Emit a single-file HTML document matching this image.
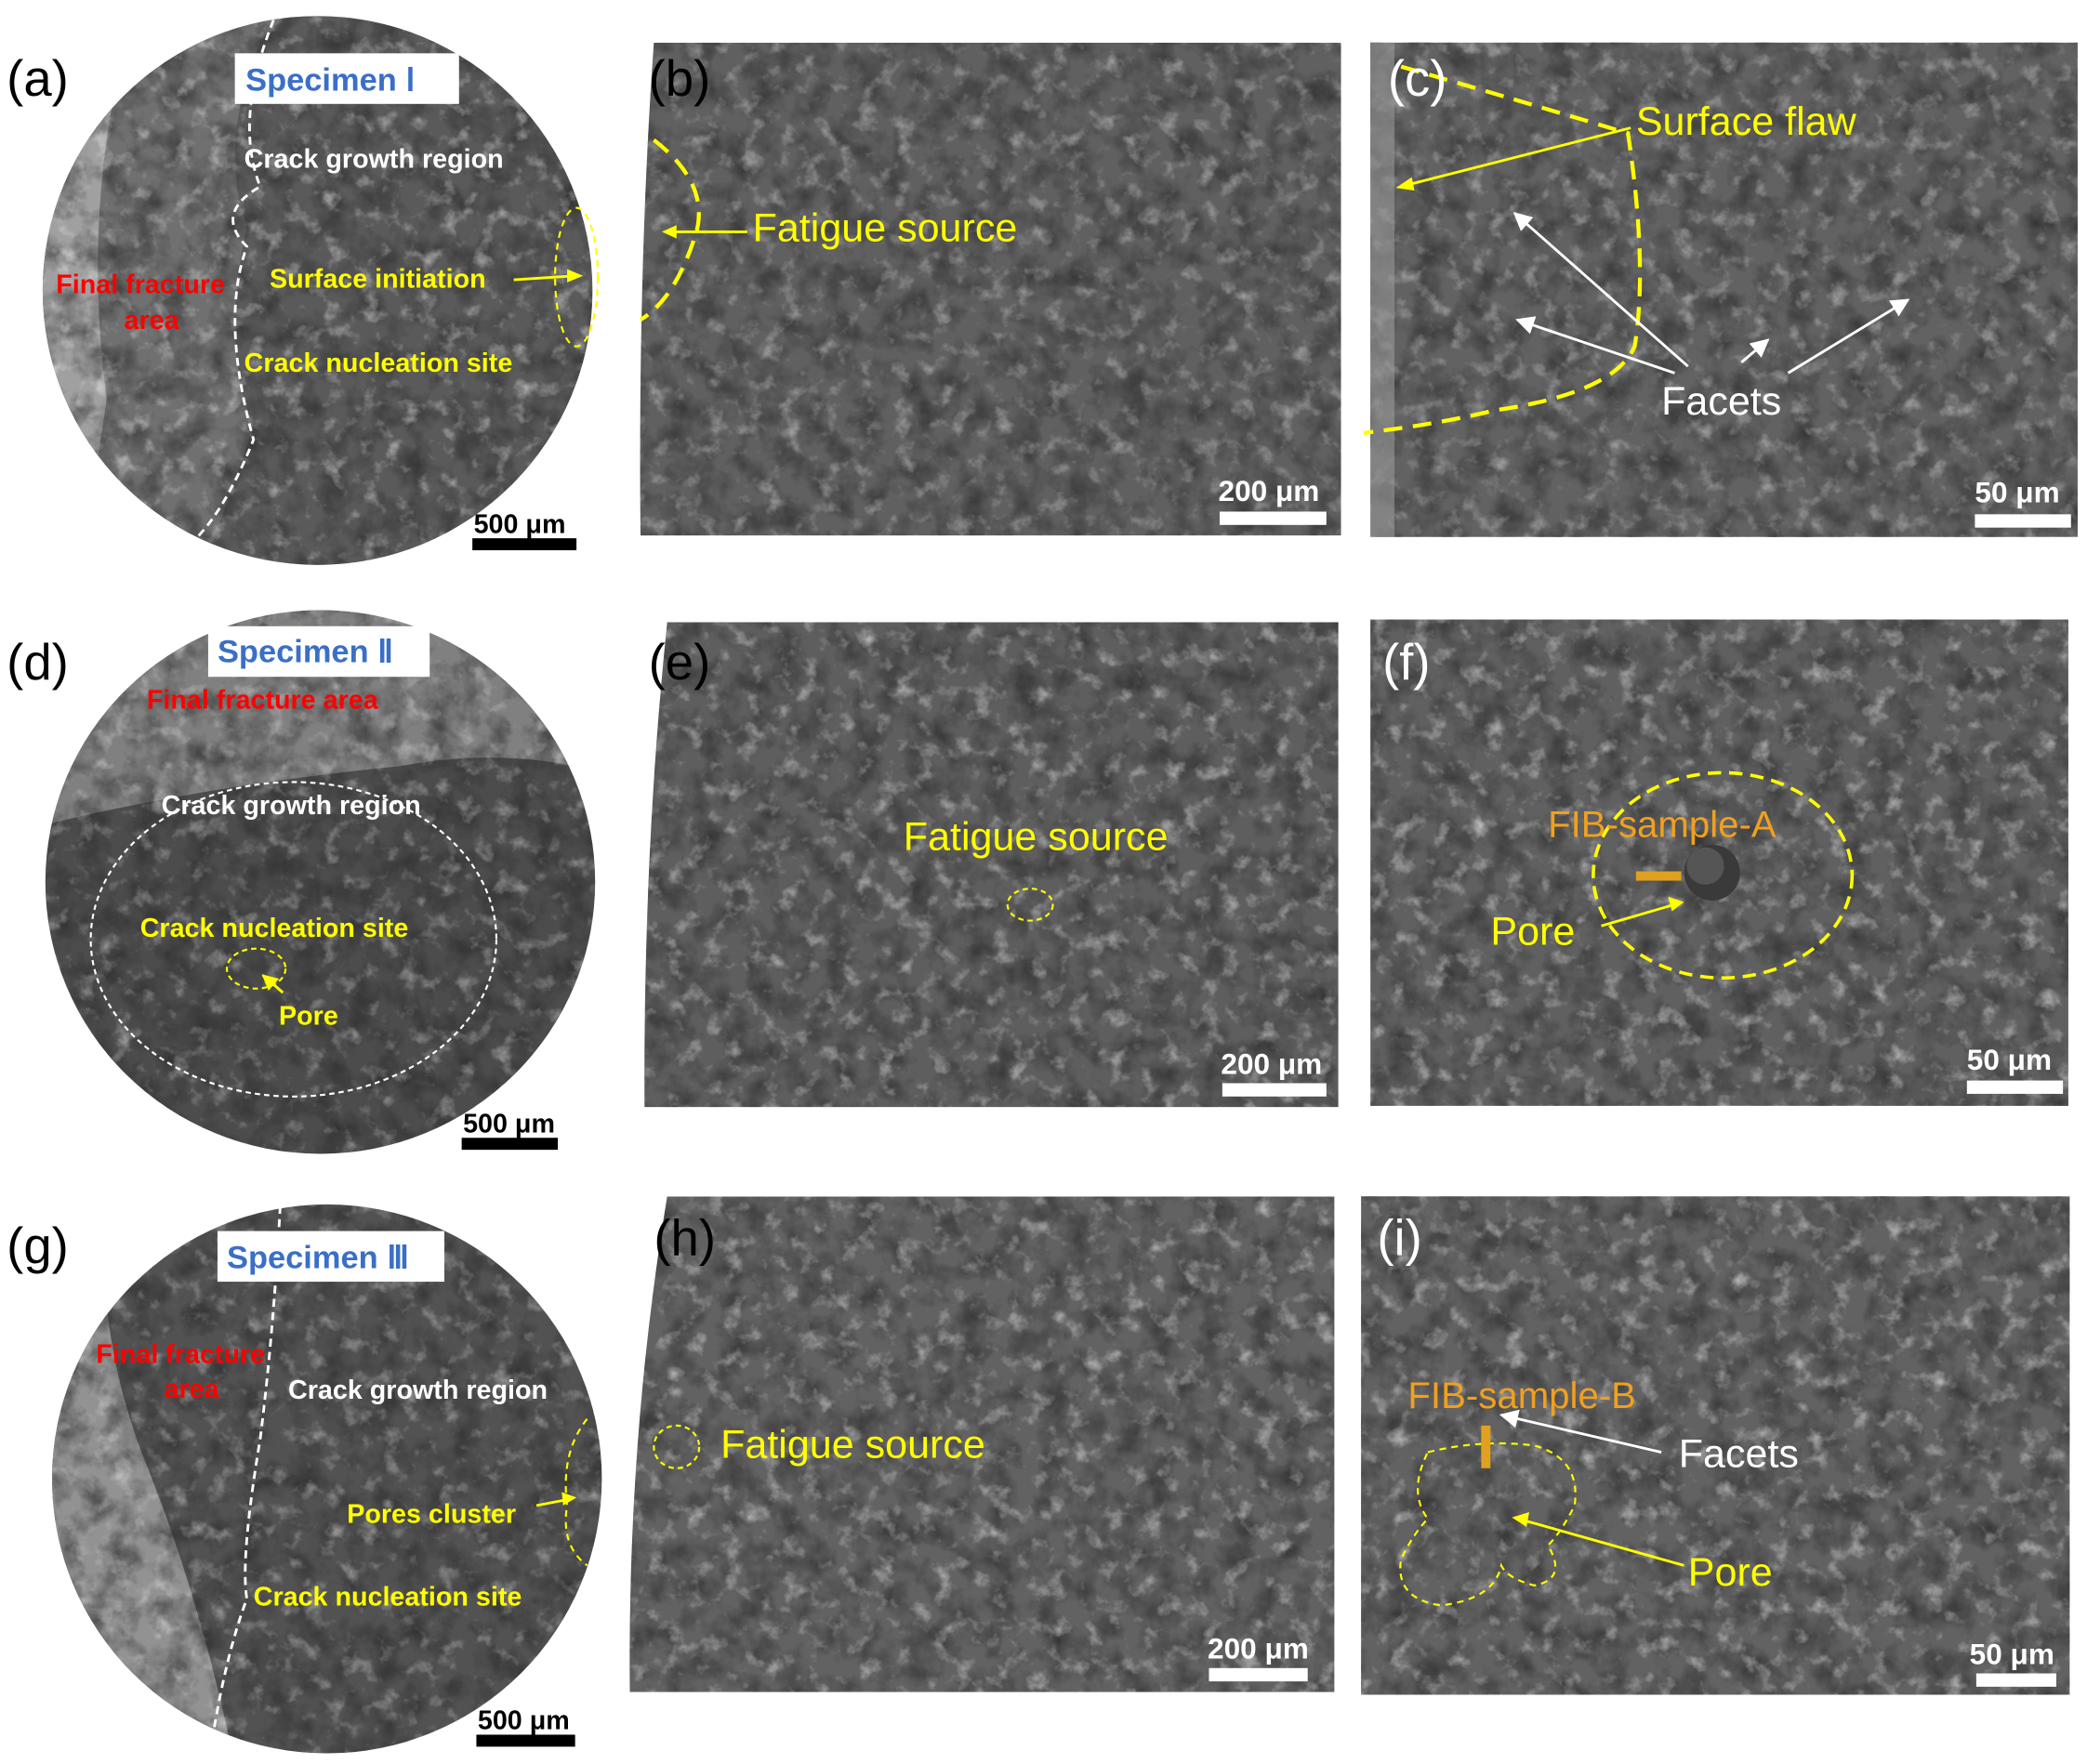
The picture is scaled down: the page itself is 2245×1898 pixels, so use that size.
<!DOCTYPE html>
<html><head><meta charset="utf-8"><style>
html,body{margin:0;padding:0;background:#fff;}
svg{display:block;}
text{font-family:"Liberation Sans",Arial,sans-serif;}
</style></head><body>
<svg width="2245" height="1898" viewBox="0 0 1564 1324" preserveAspectRatio="none" xmlns="http://www.w3.org/2000/svg">
<defs>
<filter id="tex" x="0" y="0" width="100%" height="100%" color-interpolation-filters="sRGB">
<feTurbulence type="fractalNoise" baseFrequency="0.05" numOctaves="4" seed="3"/>
<feColorMatrix type="matrix" values="0 0 0 0 0.15  0 0 0 0 0.15  0 0 0 0 0.15  1.3 0 0 0 -0.5"/>
</filter>
<filter id="tex2" x="0" y="0" width="100%" height="100%" color-interpolation-filters="sRGB">
<feTurbulence type="fractalNoise" baseFrequency="0.07" numOctaves="4" seed="7"/>
<feColorMatrix type="matrix" values="0 0 0 0 1  0 0 0 0 1  0 0 0 0 1  2.2 0 0 0 -1.2"/>
</filter>
<marker id="aw" viewBox="0 0 10 10" refX="9" refY="5" markerWidth="7" markerHeight="7" orient="auto"><path d="M0 0 L10 5 L0 10Z" fill="#fff"/></marker>
<marker id="ay" viewBox="0 0 10 10" refX="9" refY="5" markerWidth="6" markerHeight="6" orient="auto"><path d="M0 0 L10 5 L0 10Z" fill="#ff0"/></marker>
<clipPath id="ca"><circle cx="238" cy="218" r="206"/></clipPath>
<clipPath id="cd"><ellipse cx="240" cy="662" rx="206" ry="204"/></clipPath>
<clipPath id="cg"><circle cx="245" cy="1110" r="206"/></clipPath>
<clipPath id="cb"><path d="M490 32 H1005 V402 H480 Q478 200 490 32Z"/></clipPath>
<clipPath id="ce"><path d="M500 467 H1003 V831 H483 Q482 640 500 467Z"/></clipPath>
<clipPath id="ch"><path d="M500 898 H1000 V1270 H472 Q470 1080 500 898Z"/></clipPath>
</defs>

<!-- panel a -->
<g clip-path="url(#ca)">
<rect x="30" y="10" width="420" height="420" fill="#5a5a5a"/>
<path d="M30 10 H205 Q160 100 185 170 Q165 260 190 320 Q170 380 150 430 H30Z" fill="#707070"/>
<path d="M30 10 H100 Q60 150 80 300 L60 430 H30Z" fill="#a0a0a0"/>
<rect x="30" y="10" width="420" height="420" filter="url(#tex)"/>
<rect x="30" y="10" width="420" height="420" filter="url(#tex2)" opacity="0.6"/>
</g>
<path d="M205 15 Q175 90 195 140 Q160 160 185 185 Q165 240 190 330 Q170 380 148 403" fill="none" stroke="#fff" stroke-width="2" stroke-dasharray="6,4"/>
<ellipse cx="432" cy="208" rx="16" ry="52" fill="none" stroke="#ff0" stroke-width="1.5" stroke-dasharray="5,4"/>
<rect x="176" y="40" width="168" height="38" fill="#fff"/>
<text x="184" y="68" font-size="24" font-weight="bold" fill="#3a6fc7">Specimen Ⅰ</text>
<text x="183" y="126" font-size="20" font-weight="bold" fill="#fff">Crack growth region</text>
<text x="42" y="220" font-size="20" font-weight="bold" fill="#f00">Final fracture</text>
<text x="93" y="247" font-size="20" font-weight="bold" fill="#f00">area</text>
<text x="202" y="216" font-size="20" font-weight="bold" fill="#ff0">Surface initiation</text>
<line x1="385" y1="210" x2="432" y2="207" stroke="#ff0" stroke-width="2"/>
<path d="M425 202 L437 207 L425 212Z" fill="#ff0"/>
<text x="183" y="279" font-size="20" font-weight="bold" fill="#ff0">Crack nucleation site</text>
<text x="355" y="400" font-size="20" font-weight="bold" fill="#000">500 μm</text>
<rect x="354" y="404" width="78" height="9" fill="#000"/>
<text x="5" y="72" font-size="38" fill="#000">(a)</text>

<!-- panel b -->
<g clip-path="url(#cb)">
<rect x="470" y="32" width="540" height="372" fill="#606060"/>
<rect x="470" y="32" width="540" height="372" filter="url(#tex)"/>
<rect x="470" y="32" width="540" height="372" filter="url(#tex2)" opacity="0.5"/>
</g>
<path d="M490 105 Q535 140 520 180 Q505 225 480 240" fill="none" stroke="#ff0" stroke-width="3" stroke-dasharray="14,8"/>
<line x1="500" y1="174" x2="560" y2="174" stroke="#ff0" stroke-width="2"/>
<path d="M507 169 L496 174 L507 179Z" fill="#ff0"/>
<text x="564" y="181" font-size="30" fill="#ff0">Fatigue source</text>
<text x="913" y="376" font-size="22" font-weight="bold" fill="#fff">200 μm</text>
<rect x="914" y="384" width="80" height="10" fill="#fff"/>
<text x="486" y="72" font-size="38" fill="#000">(b)</text>

<!-- panel c -->
<rect x="1027" y="32" width="530" height="371" fill="#626262"/>
<rect x="1027" y="32" width="530" height="371" filter="url(#tex)"/>
<rect x="1027" y="32" width="530" height="371" filter="url(#tex2)" opacity="0.5"/>
<rect x="1027" y="32" width="18" height="371" fill="#9a9a9a" opacity="0.6"/>
<path d="M1050 50 Q1120 70 1220 100 Q1235 200 1225 260 Q1210 295 1120 308 Q1080 318 1022 325" fill="none" stroke="#ff0" stroke-width="3" stroke-dasharray="14,8"/>
<line x1="1222" y1="96" x2="1050" y2="140" stroke="#ff0" stroke-width="2"/>
<path d="M1058 133 L1046 141 L1060 143Z" fill="#ff0"/>
<text x="1226" y="101" font-size="30" fill="#ff0">Surface flaw</text>
<g stroke="#fff" stroke-width="2" marker-end="url(#aw)">
<line x1="1265" y1="275" x2="1135" y2="160"/>
<line x1="1255" y1="280" x2="1137" y2="240"/>
<line x1="1305" y1="272" x2="1325" y2="255"/>
<line x1="1340" y1="280" x2="1430" y2="225"/>
</g>
<text x="1245" y="311" font-size="30" fill="#fff">Facets</text>
<text x="1480" y="377" font-size="22" font-weight="bold" fill="#fff">50 μm</text>
<rect x="1480" y="386" width="72" height="10" fill="#fff"/>
<text x="1040" y="72" font-size="38" fill="#fff">(c)</text>

<!-- panel d -->
<g clip-path="url(#cd)">
<rect x="30" y="455" width="420" height="420" fill="#4c4c4c"/>
<path d="M30 455 H450 V580 Q380 560 300 575 Q150 590 30 620Z" fill="#808080"/>
<rect x="30" y="455" width="420" height="420" filter="url(#tex)"/>
<rect x="30" y="455" width="420" height="420" filter="url(#tex2)" opacity="0.5"/>
</g>
<ellipse cx="220" cy="705" rx="152" ry="118" fill="none" stroke="#fff" stroke-width="1.5" stroke-dasharray="4,3"/>
<ellipse cx="192" cy="727" rx="22" ry="15" fill="none" stroke="#ff0" stroke-width="1.5" stroke-dasharray="4,3"/>
<rect x="156" y="470" width="166" height="38" fill="#fff"/>
<text x="163" y="497" font-size="24" font-weight="bold" fill="#3a6fc7">Specimen Ⅱ</text>
<text x="110" y="532" font-size="20" font-weight="bold" fill="#f00">Final fracture area</text>
<text x="121" y="611" font-size="20" font-weight="bold" fill="#fff">Crack growth region</text>
<text x="105" y="703" font-size="20" font-weight="bold" fill="#ff0">Crack nucleation site</text>
<line x1="212" y1="745" x2="197" y2="732" stroke="#ff0" stroke-width="2" marker-end="url(#ay)"/>
<text x="209" y="769" font-size="20" font-weight="bold" fill="#ff0">Pore</text>
<text x="347" y="850" font-size="20" font-weight="bold" fill="#000">500 μm</text>
<rect x="346" y="854" width="72" height="9" fill="#000"/>
<text x="5" y="510" font-size="38" fill="#000">(d)</text>

<!-- panel e -->
<g clip-path="url(#ce)">
<rect x="480" y="467" width="525" height="365" fill="#5e5e5e"/>
<rect x="480" y="467" width="525" height="365" filter="url(#tex)"/>
<rect x="480" y="467" width="525" height="365" filter="url(#tex2)" opacity="0.6"/>
</g>
<ellipse cx="772" cy="679" rx="17" ry="12" fill="none" stroke="#ff0" stroke-width="1.5" stroke-dasharray="4,3"/>
<text x="677" y="638" font-size="30" fill="#ff0">Fatigue source</text>
<text x="915" y="806" font-size="22" font-weight="bold" fill="#fff">200 μm</text>
<rect x="916" y="813" width="78" height="10" fill="#fff"/>
<text x="486" y="510" font-size="38" fill="#000">(e)</text>

<!-- panel f -->
<rect x="1027" y="465" width="523" height="365" fill="#606060"/>
<rect x="1027" y="465" width="523" height="365" filter="url(#tex)"/>
<rect x="1027" y="465" width="523" height="365" filter="url(#tex2)" opacity="0.6"/>
<circle cx="1283" cy="655" r="21" fill="#3a3a3a"/>
<circle cx="1278" cy="650" r="14" fill="#555"/>
<ellipse cx="1291" cy="657" rx="97" ry="77" fill="none" stroke="#ff0" stroke-width="2.5" stroke-dasharray="10,6"/>
<rect x="1226" y="654" width="34" height="7" fill="#e0a020"/>
<text x="1160" y="628" font-size="28" fill="#f0a020">FIB-sample-A</text>
<line x1="1200" y1="695" x2="1258" y2="678" stroke="#ff0" stroke-width="2"/>
<path d="M1250 673 L1262 677 L1253 684Z" fill="#ff0"/>
<text x="1117" y="709" font-size="30" fill="#ff0">Pore</text>
<text x="1474" y="803" font-size="22" font-weight="bold" fill="#fff">50 μm</text>
<rect x="1474" y="811" width="72" height="10" fill="#fff"/>
<text x="1036" y="510" font-size="38" fill="#fff">(f)</text>

<!-- panel g -->
<g clip-path="url(#cg)">
<rect x="30" y="900" width="430" height="420" fill="#525252"/>
<path d="M30 900 H80 Q70 1000 110 1100 Q150 1200 175 1320 H30Z" fill="#929292"/>
<rect x="30" y="900" width="430" height="420" filter="url(#tex)"/>
<rect x="30" y="900" width="430" height="420" filter="url(#tex2)" opacity="0.5"/>
</g>
<path d="M210 905 Q205 1000 195 1080 Q180 1170 185 1200 Q170 1240 160 1300" fill="none" stroke="#fff" stroke-width="2" stroke-dasharray="6,4"/>
<path d="M440 1065 Q420 1090 425 1130 Q420 1160 440 1175" fill="none" stroke="#ff0" stroke-width="1.5" stroke-dasharray="5,4"/>
<rect x="163" y="924" width="170" height="38" fill="#fff"/>
<text x="170" y="952" font-size="24" font-weight="bold" fill="#3a6fc7">Specimen Ⅲ</text>
<text x="72" y="1023" font-size="20" font-weight="bold" fill="#f00">Final fracture</text>
<text x="123" y="1049" font-size="20" font-weight="bold" fill="#f00">area</text>
<text x="216" y="1050" font-size="20" font-weight="bold" fill="#fff">Crack growth region</text>
<text x="260" y="1143" font-size="20" font-weight="bold" fill="#ff0">Pores cluster</text>
<line x1="402" y1="1130" x2="428" y2="1125" stroke="#ff0" stroke-width="2"/>
<path d="M421 1120 L432 1124 L422 1130Z" fill="#ff0"/>
<text x="190" y="1205" font-size="20" font-weight="bold" fill="#ff0">Crack nucleation site</text>
<text x="358" y="1298" font-size="20" font-weight="bold" fill="#000">500 μm</text>
<rect x="357" y="1302" width="74" height="9" fill="#000"/>
<text x="5" y="948" font-size="38" fill="#000">(g)</text>

<!-- panel h -->
<g clip-path="url(#ch)">
<rect x="470" y="898" width="532" height="373" fill="#626262"/>
<rect x="470" y="898" width="532" height="373" filter="url(#tex)"/>
<rect x="470" y="898" width="532" height="373" filter="url(#tex2)" opacity="0.6"/>
</g>
<ellipse cx="507" cy="1086" rx="17" ry="16" fill="none" stroke="#ff0" stroke-width="1.5" stroke-dasharray="4,3"/>
<text x="540" y="1094" font-size="30" fill="#ff0">Fatigue source</text>
<text x="905" y="1245" font-size="22" font-weight="bold" fill="#fff">200 μm</text>
<rect x="906" y="1252" width="74" height="10" fill="#fff"/>
<text x="490" y="942" font-size="38" fill="#000">(h)</text>

<!-- panel i -->
<rect x="1020" y="898" width="531" height="374" fill="#626262"/>
<rect x="1020" y="898" width="531" height="374" filter="url(#tex)"/>
<rect x="1020" y="898" width="531" height="374" filter="url(#tex2)" opacity="0.6"/>
<path d="M1070 1090 Q1110 1080 1150 1085 Q1185 1095 1180 1130 Q1170 1150 1160 1160 Q1175 1185 1150 1190 Q1130 1185 1125 1175 Q1120 1200 1080 1205 Q1045 1200 1050 1170 Q1060 1150 1070 1140 Q1055 1120 1070 1090Z" fill="none" stroke="#ff0" stroke-width="1.5" stroke-dasharray="5,4"/>
<rect x="1110" y="1070" width="7" height="32" fill="#e0a020"/>
<text x="1055" y="1057" font-size="28" fill="#f0a020">FIB-sample-B</text>
<line x1="1245" y1="1090" x2="1125" y2="1062" stroke="#fff" stroke-width="2" marker-end="url(#aw)"/>
<text x="1258" y="1101" font-size="30" fill="#fff">Facets</text>
<line x1="1262" y1="1175" x2="1138" y2="1140" stroke="#ff0" stroke-width="2"/>
<path d="M1146 1135 L1133 1139 L1144 1146Z" fill="#ff0"/>
<text x="1265" y="1190" font-size="30" fill="#ff0">Pore</text>
<text x="1476" y="1249" font-size="22" font-weight="bold" fill="#fff">50 μm</text>
<rect x="1481" y="1256" width="60" height="10" fill="#fff"/>
<text x="1032" y="942" font-size="38" fill="#fff">(i)</text>
</svg>
</body></html>
